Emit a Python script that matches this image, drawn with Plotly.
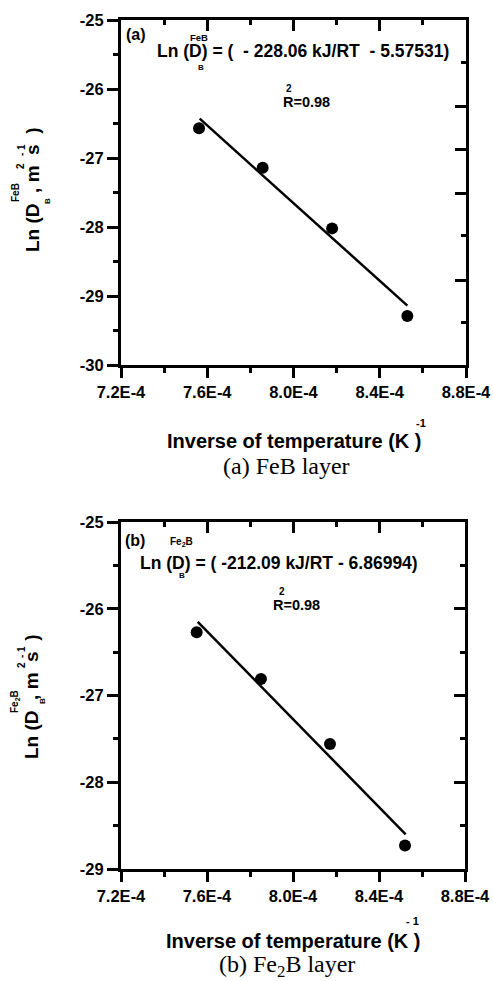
import plotly.graph_objects as go

# ---------------- data ----------------
inv_T_FeB = [7.562e-4, 7.857e-4, 8.179e-4, 8.528e-4]
lnD_FeB = [-26.57, -27.14, -28.02, -29.29]
fit_FeB_x = [7.565e-4, 8.528e-4]
fit_FeB_y = [-26.43, -29.14]

inv_T_Fe2B = [7.552e-4, 7.851e-4, 8.172e-4, 8.521e-4]
lnD_Fe2B = [-26.27, -26.81, -27.56, -28.73]
fit_Fe2B_x = [7.557e-4, 8.524e-4]
fit_Fe2B_y = [-26.15, -28.60]

x_tickvals = [7.2e-4, 7.6e-4, 8.0e-4, 8.4e-4, 8.8e-4]
x_ticktext = ["7.2E-4", "7.6E-4", "8.0E-4", "8.4E-4", "8.8E-4"]
x_minorvals = [7.4e-4, 7.8e-4, 8.2e-4, 8.6e-4]
ya_tickvals = [-30, -29, -28, -27, -26, -25]
ya_minorvals = [-29.5, -28.5, -27.5, -26.5, -25.5]
ya_right_major = [-26.26, -26.88, -27.51, -28.77]
ya_right_minor = [-25.62, -28.13, -29.39]
yb_tickvals = [-29, -28, -27, -26, -25]
yb_minorvals = [-28.5, -27.5, -26.5, -25.5]

W, H = 493, 981
def px(x):
    return x / W
def py(y):
    return 1 - y / H

SANS = "Liberation Sans, Arial, sans-serif"
SERIF = "Liberation Serif, Times New Roman, serif"
BLACK = "black"

fig = go.Figure()

# panel (a)
fig.add_trace(go.Scatter(x=fit_FeB_x, y=fit_FeB_y, mode="lines",
                         line=dict(color=BLACK, width=2.5), xaxis="x", yaxis="y"))
fig.add_trace(go.Scatter(x=inv_T_FeB, y=lnD_FeB, mode="markers",
                         marker=dict(color=BLACK, size=12), xaxis="x", yaxis="y"))
fig.add_trace(go.Scatter(x=[None], y=[None], xaxis="x2", yaxis="y2", showlegend=False))
# panel (b)
fig.add_trace(go.Scatter(x=fit_Fe2B_x, y=fit_Fe2B_y, mode="lines",
                         line=dict(color=BLACK, width=2.5), xaxis="x3", yaxis="y3"))
fig.add_trace(go.Scatter(x=inv_T_Fe2B, y=lnD_Fe2B, mode="markers",
                         marker=dict(color=BLACK, size=12), xaxis="x3", yaxis="y3"))
fig.add_trace(go.Scatter(x=[None], y=[None], xaxis="x4", yaxis="y4", showlegend=False))

dom_a_x = [px(121), px(466)]
dom_a_y = [py(365), py(20)]
dom_b_x = [px(121), px(465)]
dom_b_y = [py(869), py(522)]

tickfont = dict(family=SANS, size=16.5, color=BLACK, weight="bold")

def bold(s):
    return "<b>" + s + "</b>"

def bottom_x(domain, anchor):
    return dict(domain=domain, anchor=anchor, range=[7.2e-4, 8.8e-4], automargin=False,
                showline=True, linewidth=3, linecolor=BLACK, mirror=False,
                ticks="outside", ticklen=10, tickwidth=3, tickcolor=BLACK,
                tickvals=x_tickvals, ticktext=[bold(t) for t in x_ticktext], tickfont=tickfont,
                minor=dict(tickmode="array", tickvals=x_minorvals, ticks="outside",
                           ticklen=5, tickwidth=3, tickcolor=BLACK),
                showgrid=False, zeroline=False, fixedrange=True)

def top_x(domain, anchor, over):
    return dict(domain=domain, anchor=anchor, overlaying=over, side="top",
                range=[7.2e-4, 8.8e-4], automargin=False,
                showline=True, linewidth=3, linecolor=BLACK,
                ticks="inside", ticklen=11, tickwidth=3, tickcolor=BLACK,
                tickvals=x_tickvals, showticklabels=False,
                minor=dict(tickmode="array", tickvals=x_minorvals, ticks="inside",
                           ticklen=5, tickwidth=3, tickcolor=BLACK),
                showgrid=False, zeroline=False, fixedrange=True)

def left_y(domain, anchor, rng, vals, minors):
    return dict(domain=domain, anchor=anchor, range=rng, automargin=False,
                showline=True, linewidth=3, linecolor=BLACK,
                ticks="outside", ticklen=11, tickwidth=3, tickcolor=BLACK,
                tickvals=vals, ticktext=[bold(str(v)) for v in vals], tickfont=tickfont,
                minor=dict(tickmode="array", tickvals=minors, ticks="outside",
                           ticklen=5, tickwidth=3, tickcolor=BLACK),
                showgrid=False, zeroline=False, fixedrange=True)

def right_y(domain, anchor, over, rng, vals, minors):
    return dict(domain=domain, anchor=anchor, overlaying=over, side="right", range=rng,
                automargin=False,
                showline=True, linewidth=3, linecolor=BLACK,
                ticks="inside", ticklen=11, tickwidth=3, tickcolor=BLACK,
                tickvals=vals, showticklabels=False,
                minor=dict(tickmode="array", tickvals=minors, ticks="inside",
                           ticklen=5, tickwidth=3, tickcolor=BLACK),
                showgrid=False, zeroline=False, fixedrange=True)

fig.update_layout(
    template="none",
    width=W, height=H, margin=dict(l=0, r=0, t=0, b=0, pad=0, autoexpand=False),
    paper_bgcolor="white", plot_bgcolor="white", showlegend=False,
    xaxis=bottom_x(dom_a_x, "y"),
    xaxis2=top_x(dom_a_x, "y2", "x"),
    yaxis=left_y(dom_a_y, "x", [-30, -25], ya_tickvals, ya_minorvals),
    yaxis2=right_y(dom_a_y, "x2", "y", [-30, -25], ya_right_major, ya_right_minor),
    xaxis3=bottom_x(dom_b_x, "y3"),
    xaxis4=top_x(dom_b_x, "y4", "x3"),
    yaxis3=left_y(dom_b_y, "x3", [-29, -25], yb_tickvals, yb_minorvals),
    yaxis4=right_y(dom_b_y, "x4", "y3", [-29, -25], yb_tickvals, yb_minorvals),
)

def ann(text, x, y, size, family=SANS, bold=True, angle=0, xanchor="center"):
    fig.add_annotation(text=text, x=px(x), y=py(y), xref="paper", yref="paper",
                       showarrow=False, xanchor=xanchor, yanchor="middle", textangle=angle,
                       font=dict(family=family, size=size, color=BLACK,
                                 weight="bold" if bold else "normal"))

NB = "\u00a0"
# ---- panel (a) texts ----
ann("(a)", 136, 35, 16)
ann("Ln (D) = (" + NB * 2 + "- 228.06 kJ/RT" + NB * 2 + "- 5.57531)", 303, 51, 17.5)
ann("FeB", 199, 38, 9.5)
ann("B", 200.5, 67, 8)
ann("R=0.98", 306, 102, 14.5)
ann("2", 289, 88, 10)
ann("Inverse of temperature (K" + NB + ")", 294, 441, 20)
ann("-1", 421, 423, 11)
ann("(a) FeB layer", 286, 466, 24, family=SERIF, bold=False)
ann("Ln (D" + NB * 2 + ", m" + NB + " s" + NB + " )", 32, 190, 19, angle=-90)
ann("FeB", 15, 193, 10, angle=-90)
ann("B", 47, 201, 8, angle=-90)
ann("2", 21, 166, 10, angle=-90)
ann("- 1", 21, 150, 10, angle=-90)

# ---- panel (b) texts ----
ann("(b)", 135, 540, 16)
ann("Ln (D) = ( -212.09 kJ/RT - 6.86994)", 279, 563, 17.5)
ann("Fe<sub>2</sub>B", 181, 542, 10)
ann("B", 182, 575, 8)
ann("R=0.98", 296, 605, 14.5)
ann("2", 282, 591, 10)
ann("Inverse of temperature (K" + NB + ")", 293, 941, 20)
ann("- 1", 412, 921, 11)
ann("(b) Fe<sub>2</sub>B layer", 287, 966, 24, family=SERIF, bold=False)
ann("Ln (D" + NB * 2 + ", m" + NB + " s" + NB + " )", 31, 697, 19, angle=-90)
ann("Fe<sub>2</sub>B", 15, 702, 10, angle=-90)
ann("B", 42, 701, 8, angle=-90)
ann("2", 21, 665, 10, angle=-90)
ann("- 1", 21, 652, 10, angle=-90)

fig.write_html("out.html", config={"displayModeBar": False},
               post_script="document.body.style.margin='0px';")
